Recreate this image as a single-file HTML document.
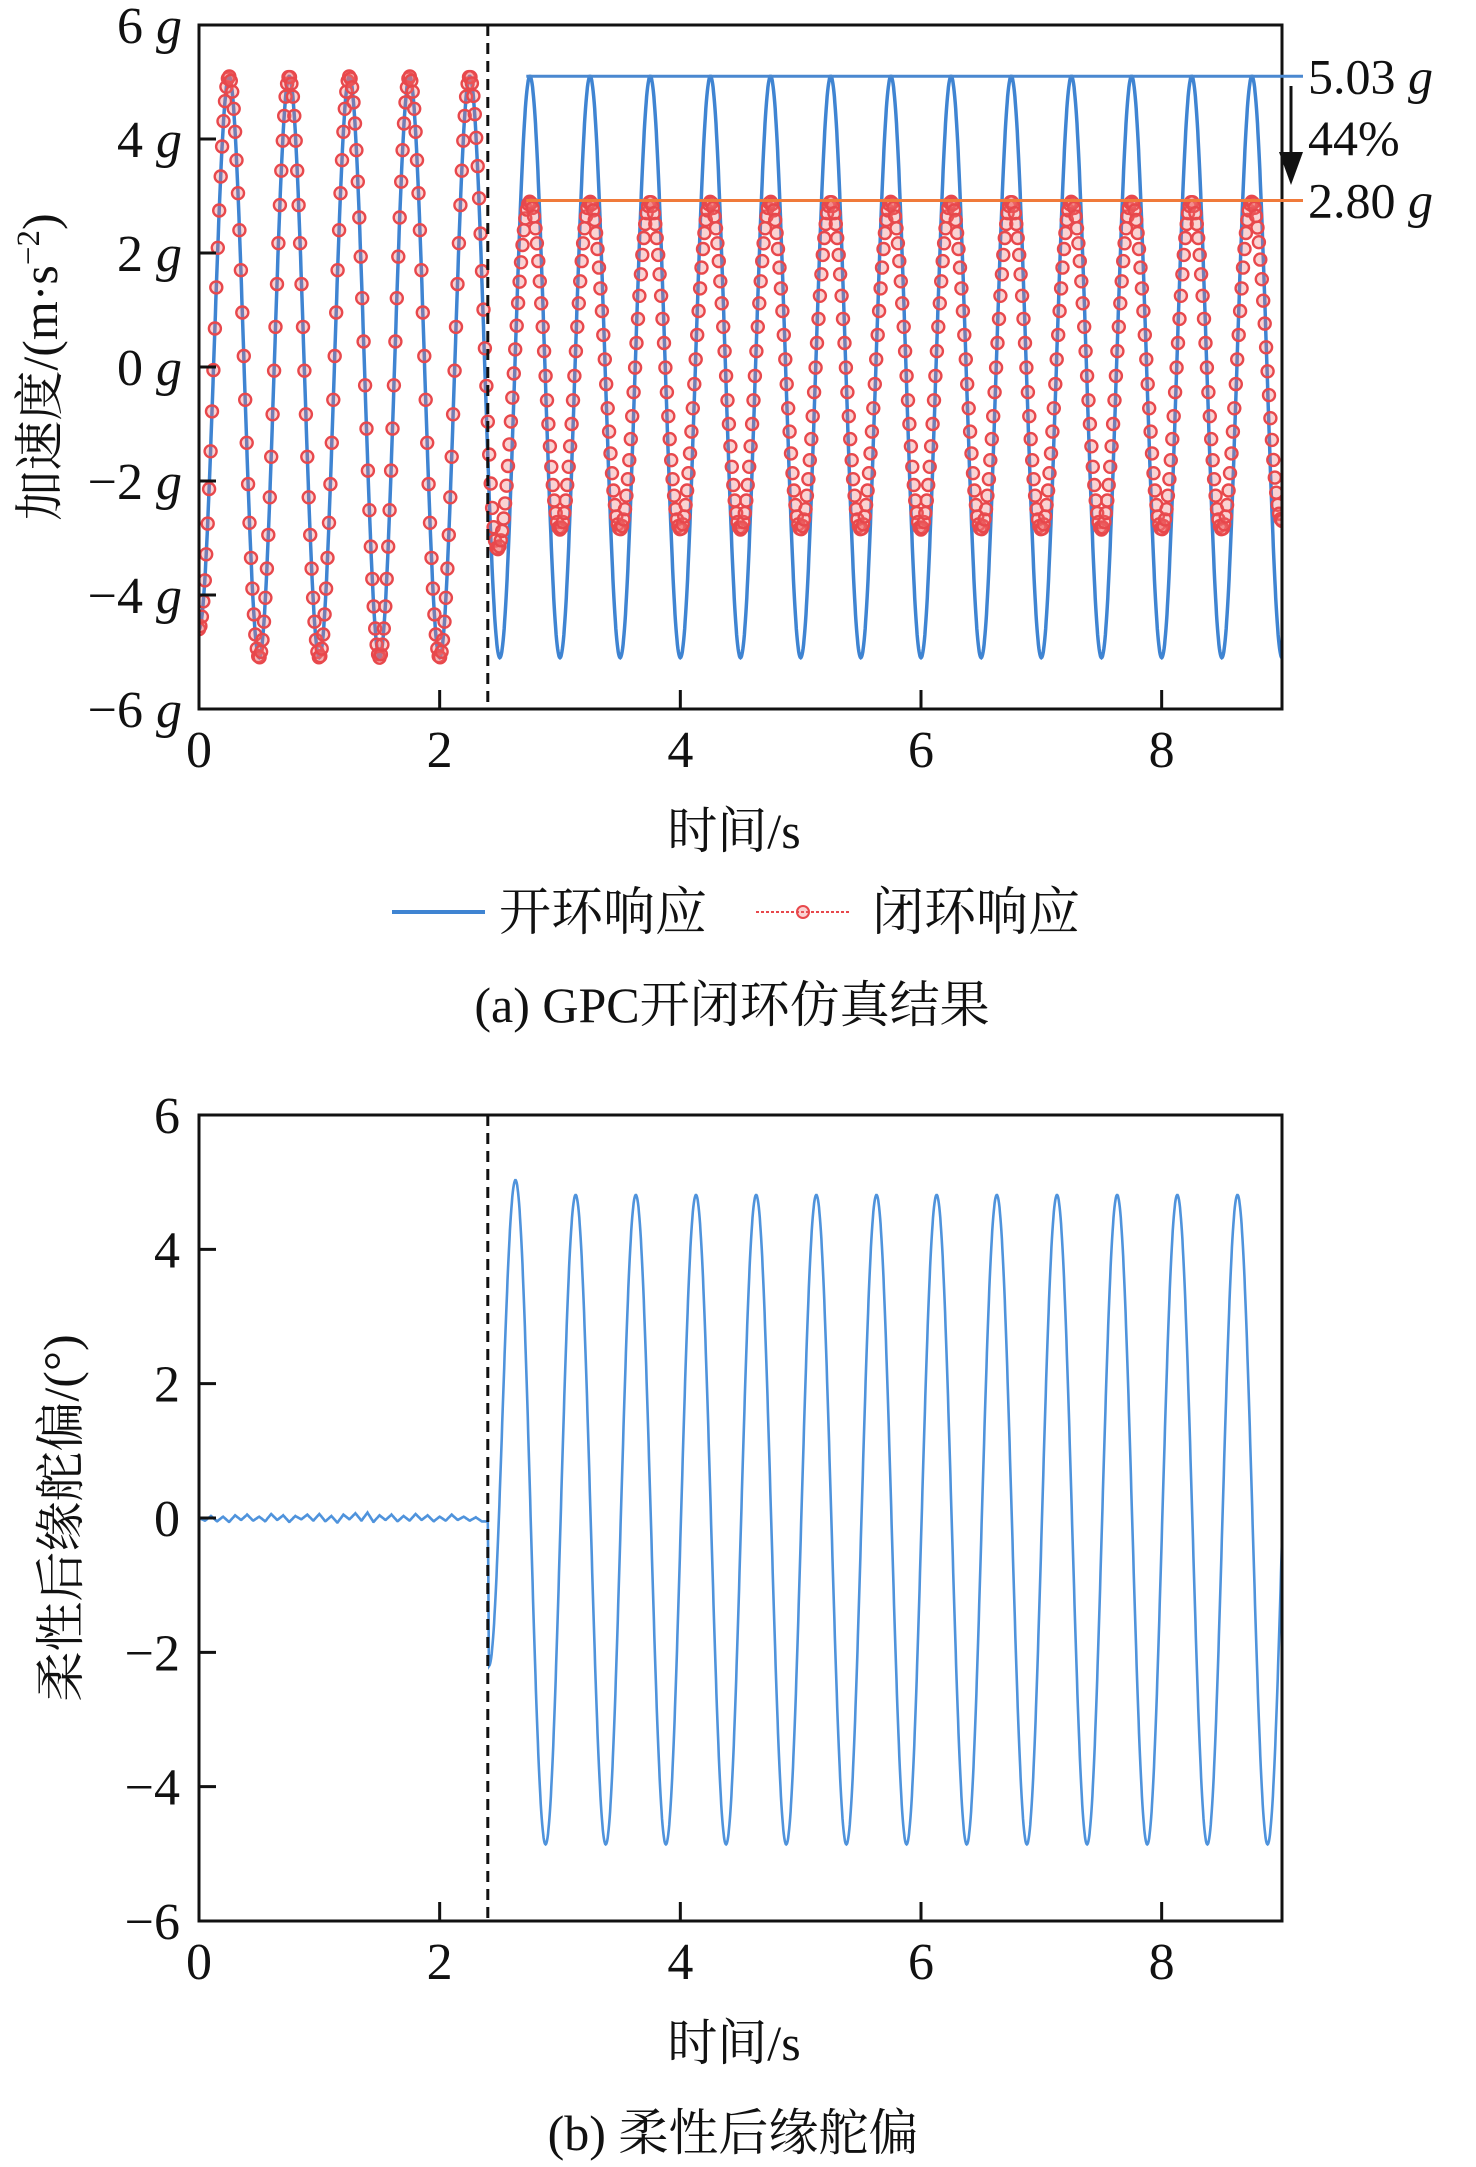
<!DOCTYPE html>
<html><head><meta charset="utf-8"><style>
html,body{margin:0;padding:0;background:#fff;}
svg{display:block;font-family:"Liberation Serif","Noto Serif CJK SC",serif;}
</style></head><body>
<svg id="fig" width="1476" height="2167" viewBox="0 0 1476 2167" xmlns="http://www.w3.org/2000/svg">
<defs>
<clipPath id="clipA"><rect x="199" y="25" width="1083" height="684"/></clipPath>
<clipPath id="clipB"><rect x="199" y="1115" width="1083" height="806"/></clipPath>
</defs>
<g id="chartA"></g>
<g id="chartB"></g>
</svg>
<script>
// ---- data: chart (a) ----
const xTicks = [0, 2, 4, 6, 8];
const yTicksA = [6, 4, 2, 0, -2, -4, -6];
const yTicksB = [6, 4, 2, 0, -2, -4, -6];
const switchTime = [2.4];
const openT = [0,0.25,0.5,0.75,1,1.25,1.5,1.75,2,2.25,2.5,2.75,3,3.25,3.5,3.75,4,4.25,4.5,4.75,5,5.25,5.5,5.75,6,6.25,6.5,6.75,7,7.25,7.5,7.75,8,8.25,8.5,8.75,9];
const openV = [-4.6,5.1,-5.1,5.1,-5.1,5.1,-5.1,5.1,-5.1,5.1,-5.1,5.1,-5.1,5.1,-5.1,5.1,-5.1,5.1,-5.1,5.1,-5.1,5.1,-5.1,5.1,-5.1,5.1,-5.1,5.1,-5.1,5.1,-5.1,5.1,-5.1,5.1,-5.1,5.1,-5.1];
const closedT = [0,0.25,0.5,0.75,1,1.25,1.5,1.75,2,2.25,2.48,2.75,3,3.25,3.5,3.75,4,4.25,4.5,4.75,5,5.25,5.5,5.75,6,6.25,6.5,6.75,7,7.25,7.5,7.75,8,8.25,8.5,8.75,9];
const closedV = [-4.6,5.1,-5.1,5.1,-5.1,5.1,-5.1,5.1,-5.1,5.1,-3.2,2.9,-2.85,2.9,-2.85,2.9,-2.85,2.9,-2.85,2.9,-2.85,2.9,-2.85,2.9,-2.85,2.9,-2.85,2.9,-2.85,2.9,-2.85,2.9,-2.85,2.9,-2.85,2.9,-2.7];
const peakLabels = ["5.03", "2.80"];
const peakLevels = [5.1, 2.92];
// ---- data: chart (b) ----
const defT = [0,0.05,0.1,0.15,0.2,0.25,0.3,0.35,0.4,0.45,0.5,0.55,0.6,0.65,0.7,0.75,0.8,0.85,0.9,0.95,1,1.05,1.1,1.15,1.2,1.25,1.3,1.35,1.4,1.45,1.5,1.55,1.6,1.65,1.7,1.75,1.8,1.85,1.9,1.95,2,2.05,2.1,2.15,2.2,2.25,2.3,2.35,2.4,2.41,2.63,2.88,3.13,3.38,3.63,3.88,4.13,4.38,4.63,4.88,5.13,5.38,5.63,5.88,6.13,6.38,6.63,6.88,7.13,7.38,7.63,7.88,8.13,8.38,8.63,8.88,9.13];
const defV = [0,-0.04,0.03,-0.05,0.02,-0.06,0.04,-0.03,0.05,-0.04,0.02,-0.05,0.06,-0.03,0.04,-0.06,0.03,-0.02,0.05,-0.04,0.06,-0.05,0.03,-0.07,0.05,-0.02,0.07,-0.04,0.08,-0.06,0.04,-0.03,0.05,-0.05,0.03,-0.04,0.06,-0.03,0.04,-0.05,0.02,-0.04,0.05,-0.03,0.02,-0.04,0.01,-0.05,-0.05,-2.2,5.03,-4.86,4.81,-4.86,4.81,-4.86,4.81,-4.86,4.81,-4.86,4.81,-4.86,4.81,-4.86,4.81,-4.86,4.81,-4.86,4.81,-4.86,4.81,-4.86,4.81,-4.86,4.81,-4.86,4.81];

const NS = "http://www.w3.org/2000/svg";
function mk(parent, tag, attrs, text){
  const e = document.createElementNS(NS, tag);
  for (const k in attrs) e.setAttribute(k, attrs[k]);
  if (text !== undefined) e.textContent = text;
  parent.appendChild(e); return e;
}
function interp(T, V, t, linearBefore){
  if (t <= T[0]) return V[0];
  for (let i = 0; i < T.length - 1; i++){
    if (t <= T[i+1]){
      const s = (t - T[i]) / (T[i+1] - T[i]);
      if (linearBefore !== undefined && T[i+1] <= linearBefore) return V[i] + (V[i+1]-V[i])*s;
      return V[i] + (V[i+1]-V[i]) * (1 - Math.cos(Math.PI*s)) / 2;
    }
  }
  return V[V.length-1];
}
const X0 = 199, X1 = 1282, XMAX = 9;
const xs = t => X0 + (X1 - X0) * t / XMAX;
const yA = v => 367 - v * 57;
const yB = v => 1518 - v * 67.17;

function axes(g, top, bottom, ys, yTicks, suffix){
  const box = mk(g, "rect", {x:X0, y:top, width:X1-X0, height:bottom-top, fill:"none", stroke:"#111", "stroke-width":3});
  
  
  xTicks.forEach(t => {
    const l = mk(g, "line", {x1:xs(t), x2:xs(t), y1:bottom, y2:bottom-19, stroke:"#111", "stroke-width":3});
    
    
    const tx = mk(g, "text", {x:xs(t), y:bottom+58, "font-size":52, "text-anchor":"middle", fill:"#111"}, String(t));
    
    
  });
  yTicks.forEach(v => {
    const y = ys(v);
    if (v !== 6 && v !== -6){
      const l = mk(g, "line", {x1:X0, x2:X0+17, y1:y, y2:y, stroke:"#111", "stroke-width":3});
      
      
    }
    const lab = (v < 0 ? "\u2212" + (-v) : String(v));
    const tx = mk(g, "text", {x:suffix ? 182 : 180, y:y+18, "font-size":52, "text-anchor":"end", fill:"#111"});
    
    
    tx.textContent = lab + (suffix ? " " : "");
    if (suffix){ mk(tx, "tspan", {"font-style":"italic"}, "g"); }
  });
  const d = mk(g, "line", {x1:xs(switchTime[0]), x2:xs(switchTime[0]), y1:top, y2:bottom, stroke:"#111", "stroke-width":3, "stroke-dasharray":"11 7"});
  
  
}
function pathOf(T, V, ys, t0, t1, dt, lin){
  let d = "";
  for (let t = t0; t <= t1 + 1e-9; t += dt){
    d += (d ? "L" : "M") + xs(t).toFixed(1) + "," + ys(interp(T, V, t, lin)).toFixed(1);
  }
  return d;
}

// ---- chart A ----
const gA = document.getElementById("chartA");
const sA = mk(gA, "g", {"clip-path":"url(#clipA)"});
const blue = mk(sA, "path", {d:pathOf(openT, openV, yA, 0, 9, 0.004), fill:"none", stroke:"#3f84d2", "stroke-width":3.5});


const redG = mk(sA, "g", {fill:"rgba(240,110,110,0.3)", stroke:"#e8484c", "stroke-width":2.4});


for (let t = 0; t <= 9 + 1e-9; t += 0.012){
  const c = mk(redG, "circle", {cx:xs(t).toFixed(1), cy:yA(interp(closedT, closedV, t)).toFixed(1), r:6});
  
  
}
axes(gA, 25, 709, yA, yTicksA, true);
const pkColors = ["#4a88d0", "#f07a3a"];
peakLevels.forEach((v, i) => {
  const l = mk(gA, "line", {x1:xs(2.72), x2:1303, y1:yA(v), y2:yA(v), stroke:pkColors[i], "stroke-width":3});
  
  
  const tx = mk(gA, "text", {x:1308, y:yA(v)+17, "font-size":50, fill:"#111"}, peakLabels[i] + " ");
  
  
  mk(tx, "tspan", {"font-style":"italic"}, "g");
});
const arr = mk(gA, "g", {});


mk(arr, "line", {x1:1291, x2:1291, y1:86, y2:165, stroke:"#111", "stroke-width":3});
mk(arr, "polygon", {points:"1279,152 1303,152 1291,185", fill:"#111"});
const pct = mk(gA, "text", {x:1308, y:155, "font-size":50, fill:"#111"}, "44%");


const ylA = mk(gA, "text", {transform:"translate(57,367) rotate(-90)", "font-size":50, "text-anchor":"middle", fill:"#111"});


ylA.textContent = "加速度/(m·s";
mk(ylA, "tspan", {dy:-18, "font-size":33}, "\u22122");
mk(ylA, "tspan", {dy:18}, ")");
const xlA = mk(gA, "text", {x:734, y:848, "font-size":50, "text-anchor":"middle", fill:"#111"}, "时间/s");


const lg = mk(gA, "g", {});


const le1 = mk(lg, "g", {});


mk(le1, "line", {x1:392, x2:485, y1:912, y2:912, stroke:"#3f84d2", "stroke-width":4});
mk(le1, "text", {x:499, y:930, "font-size":52, fill:"#111"}, "开环响应");
const le2 = mk(lg, "g", {});


mk(le2, "line", {x1:756, x2:850, y1:912, y2:912, stroke:"#e8484c", "stroke-width":2, "stroke-dasharray":"3 2"});
mk(le2, "circle", {cx:803, cy:912, r:6, fill:"rgba(240,110,110,0.3)", stroke:"#e8484c", "stroke-width":2});
mk(le2, "text", {x:872, y:930, "font-size":52, fill:"#111"}, "闭环响应");
const capA = mk(gA, "text", {x:732, y:1022, "font-size":50, "text-anchor":"middle", fill:"#111"}, "(a) GPC开闭环仿真结果");



// ---- chart B ----
const gB = document.getElementById("chartB");
const sB = mk(gB, "g", {"clip-path":"url(#clipB)"});
const bl = mk(sB, "path", {d:pathOf(defT, defV, yB, 0, 9.1, 0.004, 2.4), fill:"none", stroke:"#4f93dc", "stroke-width":2.6});


axes(gB, 1115, 1921, yB, yTicksB, false);
const ylB = mk(gB, "text", {transform:"translate(78,1518) rotate(-90)", "font-size":50, "text-anchor":"middle", fill:"#111"}, "柔性后缘舵偏/(°)");


const xlB = mk(gB, "text", {x:734, y:2060, "font-size":50, "text-anchor":"middle", fill:"#111"}, "时间/s");


const capB = mk(gB, "text", {x:733, y:2150, "font-size":50, "text-anchor":"middle", fill:"#111"}, "(b) 柔性后缘舵偏");


</script>
</body></html>
